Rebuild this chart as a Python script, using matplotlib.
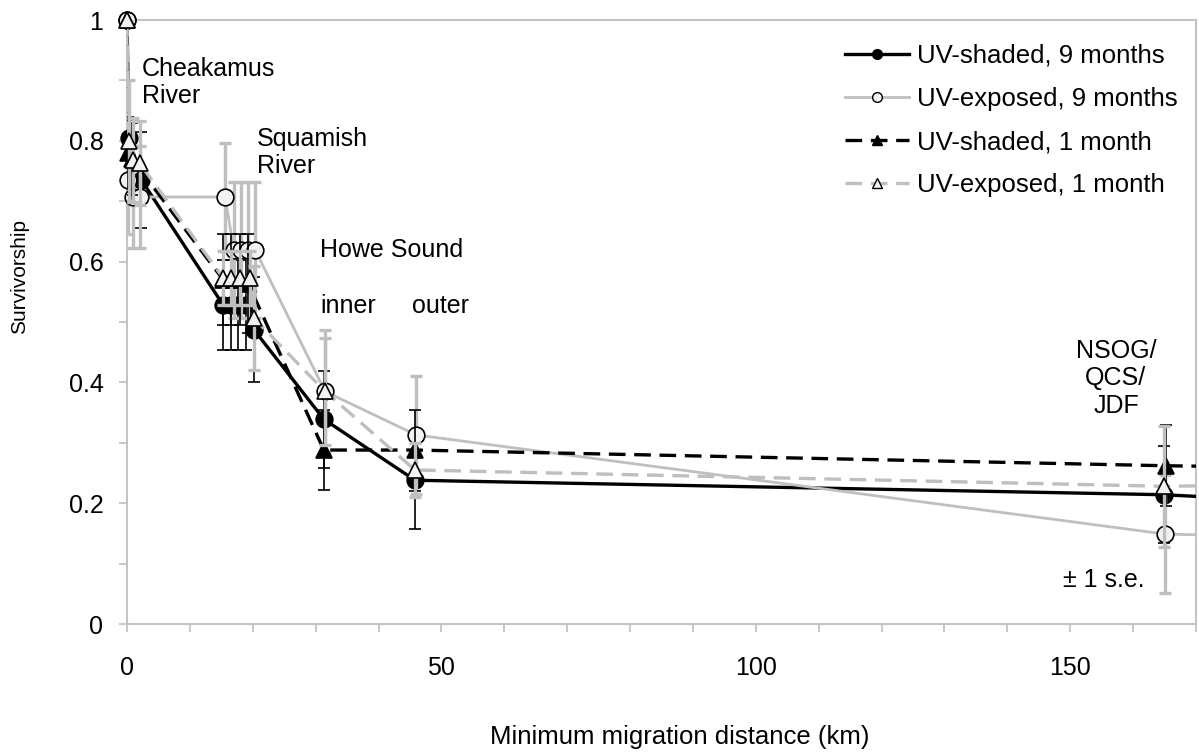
import matplotlib
matplotlib.use("Agg")
import matplotlib.pyplot as plt
from matplotlib.lines import Line2D
from matplotlib.ticker import MultipleLocator

plt.rcParams['font.family'] = ['Liberation Sans', 'DejaVu Sans']

# ---------------- data ----------------
dist_shaded_9 = [0, 0.3, 2.3, 15.3, 16.5, 17.7, 19.0, 20.2, 31.3, 45.8, 164.9, 180]
surv_shaded_9 = [1.0, 0.805, 0.735, 0.528, 0.528, 0.528, 0.528, 0.487, 0.339, 0.238, 0.214, 0.206]
se_shaded_9 = [0, 0.03, 0.08, 0.074, 0.074, 0.074, 0.074, 0.087, 0.08, 0.08, 0.08, 0]

dist_exposed_9 = [0, 0.2, 1.0, 2.0, 15.6, 17.0, 18.2, 19.3, 20.4, 31.5, 46.0, 165.0, 180]
surv_exposed_9 = [1.0, 0.735, 0.707, 0.707, 0.707, 0.619, 0.619, 0.619, 0.619, 0.385, 0.313, 0.149, 0.145]
se_exposed_9 = [0, 0.09, 0.085, 0.085, 0.089, 0.113, 0.113, 0.113, 0.113, 0.102, 0.097, 0.098, 0]

dist_shaded_1 = [0, 0.1, 0.8, 15.3, 16.6, 17.9, 19.3, 31.3, 45.8, 165.2, 180]
surv_shaded_1 = [1.0, 0.78, 0.77, 0.57, 0.57, 0.57, 0.563, 0.288, 0.288, 0.262, 0.26]
se_shaded_1 = [0, 0.06, 0.06, 0.075, 0.075, 0.075, 0.082, 0.066, 0.067, 0.067, 0]

dist_exposed_1 = [0, 0.3, 1.0, 2.0, 15.3, 16.6, 17.9, 19.6, 20.2, 31.5, 45.8, 164.9, 180]
surv_exposed_1 = [1.0, 0.80, 0.768, 0.763, 0.573, 0.573, 0.573, 0.573, 0.506, 0.385, 0.255, 0.228, 0.23]
se_exposed_1 = [0, 0.1, 0.07, 0.07, 0.045, 0.045, 0.045, 0.045, 0.086, 0.088, 0.045, 0.1, 0]

labels = ["UV-shaded, 9 months", "UV-exposed, 9 months",
          "UV-shaded, 1 month", "UV-exposed, 1 month"]
x_ticks = [0, 50, 100, 150]
y_ticks = [0, 0.2, 0.4, 0.6, 0.8, 1.0]
y_tick_labels = ["0", "0.2", "0.4", "0.6", "0.8", "1"]

# ---------------- figure ----------------
W, H = 1199, 756
fig = plt.figure(figsize=(W / 100, H / 100), dpi=100)
ax = fig.add_axes([127 / W, 1 - 624 / H, (1196 - 127) / W, (624 - 20) / H])

GRAY = '#bfbfbf'
FRAME = '#c4c4c4'
WHITE = '#f2f2f2'

styles = [
    dict(x=dist_shaded_9, y=surv_shaded_9, e=se_shaded_9, color='black', ls='-', lw=2.4,
         marker='o', mfc='black', ecolor='black', elw=1.2),
    dict(x=dist_exposed_9, y=surv_exposed_9, e=se_exposed_9, color=GRAY, ls='-', lw=2.0,
         marker='o', mfc=WHITE, ecolor=GRAY, elw=2.4),
    dict(x=dist_shaded_1, y=surv_shaded_1, e=se_shaded_1, color='black', ls=(0, (5, 2.6)), lw=2.4,
         marker='^', mfc='black', ecolor='black', elw=1.2),
    dict(x=dist_exposed_1, y=surv_exposed_1, e=se_exposed_1, color=GRAY, ls=(0, (5, 2.6)), lw=2.4,
         marker='^', mfc=WHITE, ecolor=GRAY, elw=2.4),
]

handles = []
for i, s in enumerate(styles):
    z = 3 + i * 3
    ax.plot(s['x'], s['y'], color=s['color'], ls=s['ls'], lw=s['lw'], zorder=z)
    ax.errorbar(s['x'], s['y'], yerr=s['e'], fmt='none', ecolor=s['ecolor'],
                elinewidth=s['elw'], capsize=4, capthick=s['elw'], zorder=z + 1)
    ax.plot(s['x'], s['y'], ls='none', marker=s['marker'], ms=12, mfc=s['mfc'],
            mec='black', mew=1.2, zorder=z + 2, clip_on=False)
    handles.append(Line2D([], [], color=s['color'], ls=s['ls'], lw=s['lw'],
                          marker=s['marker'], ms=7, mfc=s['mfc'], mec='black', mew=1.0))

ax.set_xlim(0, 170)
ax.set_ylim(0, 1)
ax.set_xticks(x_ticks)
ax.set_xticklabels([str(t) for t in x_ticks])
ax.xaxis.set_minor_locator(MultipleLocator(10))
ax.set_yticks(y_ticks)
ax.set_yticklabels(y_tick_labels)
ax.yaxis.set_minor_locator(MultipleLocator(0.1))

for sp in ax.spines.values():
    sp.set_color(FRAME)
    sp.set_linewidth(1.5)

ax.tick_params(axis='both', which='both', direction='out', color=FRAME, width=1.3,
               length=6, labelsize=18, labelcolor='black')
ax.tick_params(axis='x', which='both', pad=17)
ax.tick_params(axis='y', which='both', pad=11)

ax.set_ylabel("Survivorship", fontsize=15)
ax.yaxis.set_label_coords(-107 / (1196 - 127), (624 - 277) / 604)
ax.set_xlabel("Minimum migration distance (km)", fontsize=18.5)
ax.xaxis.set_label_coords((680 - 127) / (1196 - 127), -(737 - 624) / 604)
ax.xaxis.label.set_va('center')
ax.yaxis.label.set_va('center')


def ftext(px, py, s, **kw):
    fig.text(px / W, 1 - py / H, s, fontsize=18, va='baseline', **kw)


ftext(142, 76, "Cheakamus")
ftext(142, 103, "River")
ftext(257, 146, "Squamish")
ftext(257, 173, "River")
ftext(320, 257, "Howe Sound")
ftext(320, 313, "inner")
ftext(412, 313, "outer")
ftext(1116, 358, "NSOG/", ha='center')
ftext(1116, 385, "QCS/", ha='center')
ftext(1116, 413, "JDF", ha='center')
ftext(1063, 587, "± 1 s.e.")

leg = fig.legend(handles, labels, loc='upper left', bbox_to_anchor=(845 / W, 1 - 44 / H),
                 frameon=False, fontsize=18.5, handlelength=2.5, handletextpad=0.3,
                 labelspacing=0.74, borderpad=0, borderaxespad=0)

fig.savefig("out.png", dpi=100)
